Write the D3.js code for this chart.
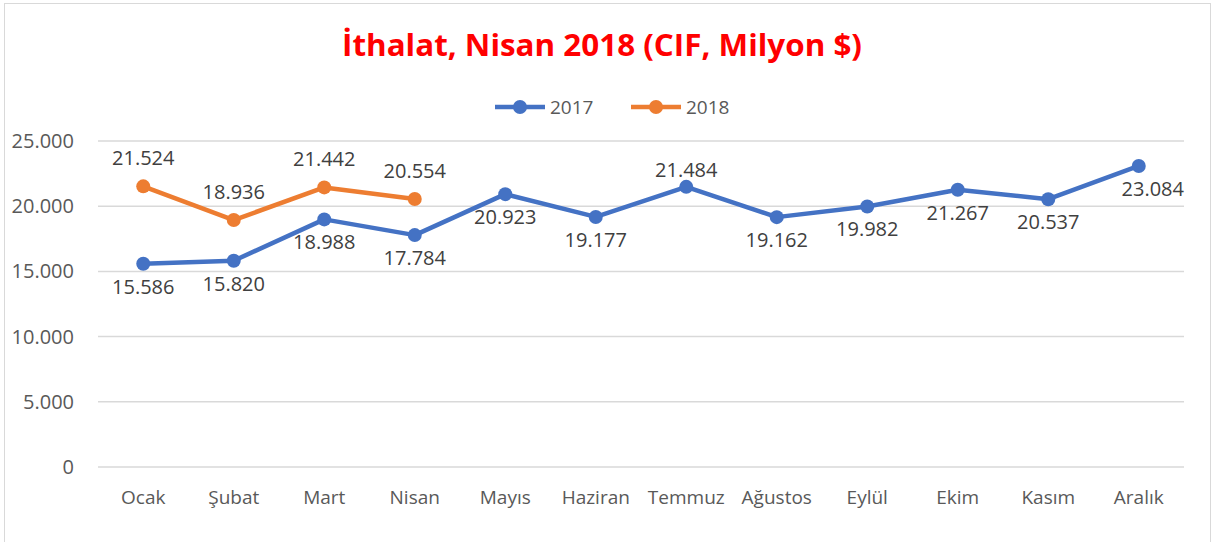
<!DOCTYPE html>
<html>
<head>
<meta charset="utf-8">
<script src="https://cdn.jsdelivr.net/npm/d3@7"></script>
<style>
  body { margin: 0; background: #fff; }
  text { font-family: "Open Sans", "Noto Sans", sans-serif; }
</style>
</head>
<body>
<svg id="chart" width="1215" height="542"></svg>
<script>
var months = ['Ocak', 'Şubat', 'Mart', 'Nisan', 'Mayıs', 'Haziran', 'Temmuz', 'Ağustos', 'Eylül', 'Ekim', 'Kasım', 'Aralık'];
var values2017 = [15586, 15820, 18988, 17784, 20923, 19177, 21484, 19162, 19982, 21267, 20537, 23084];
var values2018 = [21524, 18936, 21442, 20554];
var yTicks = [0, 5000, 10000, 15000, 20000, 25000];
// label above (-1) or below (+1) the 2017 points
var pos2017 = [1, 1, 1, 1, 1, 1, -1, 1, 1, 1, 1, 1];

var svg = d3.select('#chart');
var fmt = function(v) { return d3.format(',')(v).replace(/,/g, '.'); };

svg.append('rect')
  .attr('x', 4.5).attr('y', 3.5)
  .attr('width', 1206).attr('height', 545)
  .attr('fill', '#fff')
  .attr('stroke', '#d9d9d9');

svg.append('text')
  .attr('x', 602).attr('y', 56)
  .attr('text-anchor', 'middle')
  .attr('fill', '#ff0000')
  .attr('font-weight', 'bold')
  .attr('font-size', 30)
  .attr('textLength', 520)
  .attr('lengthAdjust', 'spacingAndGlyphs')
  .text('İthalat, Nisan 2018 (CIF, Milyon $)');

var x = d3.scaleBand().domain(months).range([98, 1184]);
var y = d3.scaleLinear().domain([0, 25000]).range([467, 141]);
var cx = function(m) { return x(m) + x.bandwidth() / 2; };

// gridlines
svg.append('g')
  .selectAll('line')
  .data(yTicks)
  .join('line')
    .attr('x1', 98).attr('x2', 1184)
    .attr('y1', d => y(d)).attr('y2', d => y(d))
    .attr('stroke', '#d9d9d9')
    .attr('stroke-width', 1.5);

var axisY = d3.axisLeft(y).tickValues(yTicks).tickSize(0).tickPadding(0).tickFormat(fmt);
svg.append('g')
  .attr('transform', 'translate(74,0)')
  .call(axisY)
  .call(g => g.select('.domain').remove())
  .call(g => g.selectAll('text')
    .attr('font-size', 20)
    .attr('fill', '#595959')
    .attr('font-family', '"Open Sans", sans-serif'));

var axisX = d3.axisBottom(x).tickSize(0).tickPadding(0);
svg.append('g')
  .attr('transform', 'translate(0,490)')
  .call(axisX)
  .call(g => g.select('.domain').remove())
  .call(g => g.selectAll('text')
    .attr('font-size', 19)
    .attr('fill', '#595959')
    .attr('font-family', '"Open Sans", sans-serif'));

var series = [
  { name: '2017', values: values2017, color: '#4472c4' },
  { name: '2018', values: values2018, color: '#ed7d31' }
];

var line = d3.line()
  .x((d, i) => cx(months[i]))
  .y(d => y(d));

series.forEach(function(s) {
  svg.append('path')
    .datum(s.values)
    .attr('d', line)
    .attr('fill', 'none')
    .attr('stroke', s.color)
    .attr('stroke-width', 4.5)
    .attr('stroke-linejoin', 'round');

  svg.append('g')
    .selectAll('circle')
    .data(s.values)
    .join('circle')
      .attr('cx', (d, i) => cx(months[i]))
      .attr('cy', d => y(d))
      .attr('r', 7)
      .attr('fill', s.color);
});

// data labels
svg.append('g')
  .selectAll('text')
  .data(values2017)
  .join('text')
    .attr('x', (d, i) => cx(months[i]) + (i === 11 ? 14 : 0))
    .attr('y', (d, i) => y(d) + (pos2017[i] > 0 ? 30 : -10))
    .attr('text-anchor', 'middle')
    .attr('font-size', 20)
    .attr('fill', '#404040')
    .text(fmt);

svg.append('g')
  .selectAll('text')
  .data(values2018)
  .join('text')
    .attr('x', (d, i) => cx(months[i]))
    .attr('y', d => y(d) - 21)
    .attr('text-anchor', 'middle')
    .attr('font-size', 20)
    .attr('fill', '#404040')
    .text(fmt);

// legend
var legend = svg.append('g')
  .selectAll('g')
  .data(series)
  .join('g')
    .attr('transform', (d, i) => 'translate(' + (495 + i * 136) + ',107)');

legend.append('line')
  .attr('x1', 0).attr('x2', 50)
  .attr('stroke', d => d.color)
  .attr('stroke-width', 4.5);

legend.append('circle')
  .attr('cx', 25).attr('r', 7)
  .attr('fill', d => d.color);

legend.append('text')
  .attr('x', 55).attr('y', 7)
  .attr('font-size', 19)
  .attr('fill', '#595959')
  .text(d => d.name);
</script>
</body>
</html>
